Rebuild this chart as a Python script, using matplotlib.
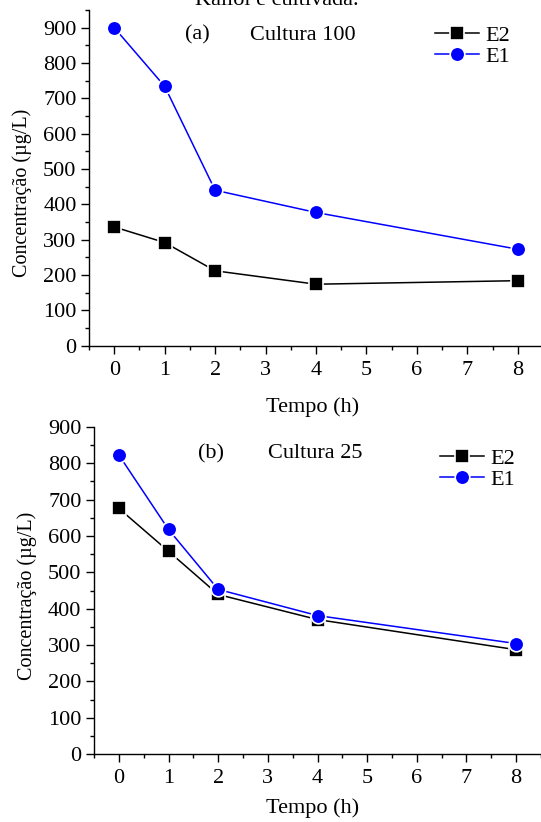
import matplotlib
matplotlib.use("Agg")
import matplotlib.pyplot as plt
from matplotlib.ticker import MultipleLocator

plt.rcParams['font.family'] = ['Liberation Serif', 'DejaVu Serif']

tempo = [0, 1, 2, 4, 8]
x_ticks = [0, 1, 2, 3, 4, 5, 6, 7, 8]

a_E2 = [336, 292, 212, 174, 184]
a_E1 = [900, 734, 440, 377, 273]
b_E2 = [676, 558, 439, 370, 287]
b_E1 = [823, 618, 453, 381, 304]

W, H = 541, 822
fig = plt.figure(figsize=(W / 100, H / 100), dpi=100)

def px_axes(left, top, right, bottom):
    return fig.add_axes([left / W, 1 - bottom / H, (right - left) / W, (bottom - top) / H])

ax1 = px_axes(89, 10, 543, 345.7)
ax2 = px_axes(94, 427, 541, 754)

FS = 16

def style(ax, ymax, series, ann, leg_xy, xlab_xy, ylab_xy):
    l2, = ax.plot(tempo, series[0], color='black', lw=1.1, marker='s', ms=9.5,
                  mfc='black', mec='white', mew=1.2, label='E2', clip_on=False, zorder=3)
    l1, = ax.plot(tempo, series[1], color='blue', lw=1.1, marker='o', ms=10.5,
                  mfc='blue', mec='white', mew=1.2, label='E1', clip_on=False, zorder=4)
    ax.set_xlim(-0.5, 8.5)
    ax.set_ylim(0, ymax)
    ax.set_xticks(x_ticks)
    ax.yaxis.set_major_locator(MultipleLocator(100))
    ax.yaxis.set_minor_locator(MultipleLocator(50))
    ax.xaxis.set_minor_locator(MultipleLocator(0.5))
    for s in ['top', 'right']:
        ax.spines[s].set_visible(False)
    for s in ['left', 'bottom']:
        ax.spines[s].set_linewidth(1.0)
    ax.tick_params(which='major', direction='out', length=6, width=1.0, labelsize=FS, pad=3)
    ax.tick_params(axis='x', which='major', pad=5)
    ax.tick_params(which='minor', direction='out', length=3, width=1.0)
    ax.set_xlabel('Tempo (h)', fontsize=FS)
    ax.xaxis.set_label_coords(*xlab_xy)
    ax.set_ylabel('Concentração (µg/L)', fontsize=14.5)
    ax.yaxis.set_label_coords(*ylab_xy)
    ax.legend(handles=[l2, l1], loc='upper left',
              bbox_to_anchor=(leg_xy[0] / W, 1 - leg_xy[1] / H), bbox_transform=fig.transFigure,
              frameon=False, fontsize=FS, handlelength=2.0, handletextpad=0.25,
              labelspacing=0.05, borderaxespad=0.0, borderpad=0.0)
    ax.text(ann[0], ann[1], '(' + ann[3] + ')', transform=ax.transAxes, fontsize=FS,
            va='center', ha='left')
    ax.text(ann[0] + ann[2], ann[1], ann[4], transform=ax.transAxes, fontsize=FS,
            va='center', ha='left')

style(ax1, 950, (a_E2, a_E1), (0.211, 0.925, 0.144, 'a', 'Cultura 100'),
      (435, 25), (0.493, -0.153), (-0.1256, 0.455))
style(ax2, 900, (b_E2, b_E1), (0.233, 0.918, 0.156, 'b', 'Cultura 25'),
      (440, 448), (0.49, -0.135), (-0.1275, 0.485))

fig.text(277 / W, 1 - 5 / H, 'Kallol e cultivada.', fontsize=FS, ha='center', va='baseline')

fig.savefig('out.png', dpi=100)
